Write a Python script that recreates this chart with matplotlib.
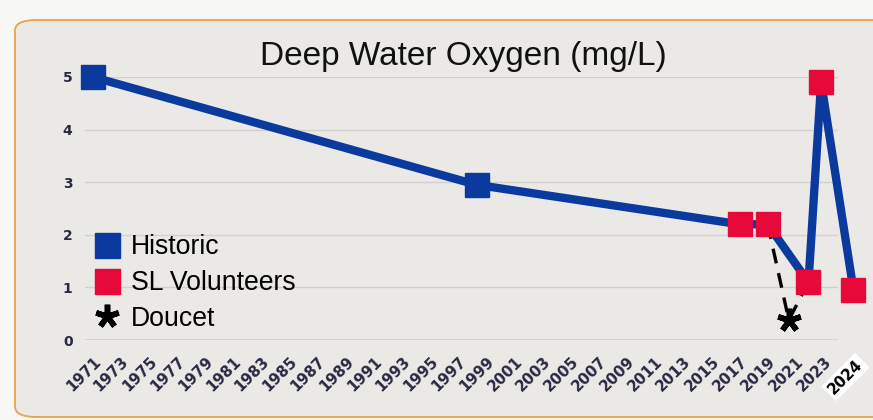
import matplotlib.pyplot as plt
import numpy as np
from matplotlib.patches import FancyBboxPatch
from matplotlib.lines import Line2D
from matplotlib.transforms import ScaledTranslation

# datos
anios_historico = [1971, 1998.3]
oxigeno_historico = [5.0, 2.95]
anios_voluntarios = [2017, 2019, 2021.9, 2022.8, 2025.1]
oxigeno_voluntarios = [2.2, 2.2, 1.1, 4.9, 0.95]
anios_doucet = [2020.5]
oxigeno_doucet = [0.38]
etiquetas_x = [str(a) for a in range(1971, 2024, 2)] + ['2024']
posiciones_x = list(range(1971, 2024, 2)) + [2024]
ticks_y = [0, 1, 2, 3, 4, 5]

azul = '#0b3a9e'
rojo = '#e8093b'
texto = '#2a2944'

fig = plt.figure(figsize=(8.73, 4.2), dpi=100)
fig.patch.set_facecolor('#f7f7f6')

# tarjeta con borde naranja
tarjeta = FancyBboxPatch((15 / 873, 3 / 420), 880 / 873, 397 / 420,
                         boxstyle='round,pad=0,rounding_size=0.025',
                         transform=fig.transFigure, facecolor='#ebe9e6',
                         edgecolor='#e6a24e', linewidth=1.3, zorder=-10)
fig.patches.append(tarjeta)

ax = fig.add_axes([85 / 873, 80 / 420, 753 / 873, 263 / 420])
ax.set_zorder(1)
ax.set_facecolor('none')
ax.set_xlim(1970.44, 2022.95)
ax.set_ylim(0, 5)
for s in ax.spines.values():
    s.set_visible(False)

ax.set_yticks(ticks_y)
ax.grid(axis='y', color='#d2d0cb', linewidth=1.0)
ax.axhline(0, color='#8c8c8c', linewidth=1.0)
ax.tick_params(axis='y', length=0, pad=9, labelsize=10, labelcolor=texto)
for t in ax.get_yticklabels():
    t.set_fontweight('bold')

ax.set_xticks(posiciones_x)
ax.set_xticklabels(etiquetas_x, rotation=45, ha='right', rotation_mode='anchor',
                   fontsize=10.8, fontweight='heavy', color=texto)
ax.tick_params(axis='x', length=0, pad=10)
ultima = ax.get_xticklabels()[-1]
ultima.set_transform(ultima.get_transform() + ScaledTranslation(0.17, -0.03, fig.dpi_scale_trans))
ultima.set_bbox(dict(facecolor='white', edgecolor='none', pad=2))
ultima.set_color('black')

# linea principal
anios_todos = anios_historico + anios_voluntarios
oxigeno_todos = oxigeno_historico + oxigeno_voluntarios
ax.plot(anios_todos, oxigeno_todos, color=azul, linewidth=6, zorder=3,
        clip_on=False, solid_joinstyle='round')

# linea discontinua hacia Doucet
ax.plot([anios_voluntarios[1], anios_doucet[0], anios_voluntarios[2]],
        [oxigeno_voluntarios[1], oxigeno_doucet[0], oxigeno_voluntarios[2]],
        color='black', linewidth=2.4, linestyle=(0, (4.5, 3)), zorder=2, clip_on=False)

ax.plot(anios_historico, oxigeno_historico, linestyle='none', marker='s',
        markersize=17.5, color=azul, zorder=4, clip_on=False)
ax.plot(anios_voluntarios, oxigeno_voluntarios, linestyle='none', marker='s',
        markersize=17.5, color=rojo, zorder=4, clip_on=False)
ax.plot(anios_doucet, oxigeno_doucet, linestyle='none', marker=(5, 2, 0),
        markersize=17, markeredgewidth=4, color='black', zorder=4, clip_on=False)

fig.text(463 / 873, 1 - 57 / 420, 'Deep Water Oxygen (mg/L)', ha='center',
         va='center', fontsize=24, family='Liberation Sans', color='#111111')

manejadores = [
    Line2D([], [], linestyle='none', marker='s', markersize=18, color=azul),
    Line2D([], [], linestyle='none', marker='s', markersize=18, color=rojo),
    Line2D([], [], linestyle='none', marker=(5, 2, 0), markersize=17,
           markeredgewidth=4, color='black'),
]
ax.legend(manejadores, ['Historic', 'SL Volunteers', 'Doucet'],
          loc='upper left', bbox_to_anchor=(80 / 873, 1 - 221 / 420),
          bbox_transform=fig.transFigure, frameon=False, borderpad=0,
          handlelength=1.0, handletextpad=0.4, labelspacing=0.36,
          prop={'family': 'Liberation Sans', 'size': 19.2})

plt.savefig('out.png', dpi=100, facecolor=fig.get_facecolor())
